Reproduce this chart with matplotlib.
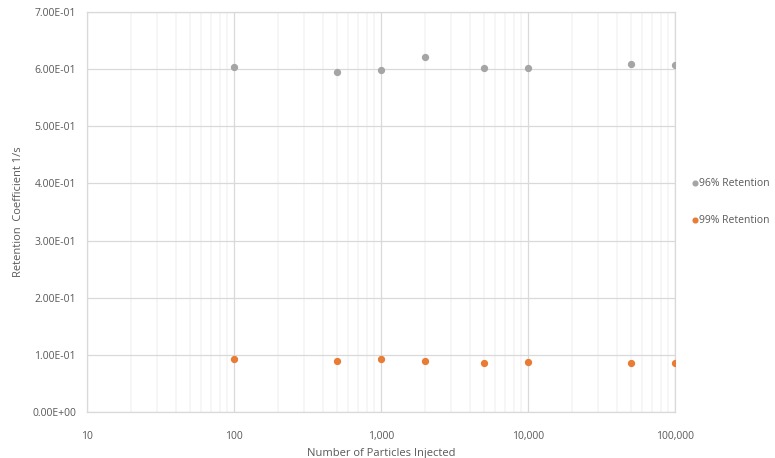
import matplotlib.pyplot as plt
from matplotlib.ticker import FuncFormatter, LogLocator

plt.rcParams['font.family'] = ['Open Sans', 'DejaVu Sans']

# particles injected and fitted retention coefficients
particles = [100, 500, 1000, 2000, 5000, 10000, 50000, 100000]
ret_96 = [0.604, 0.595, 0.598, 0.621, 0.602, 0.602, 0.609, 0.607]
ret_99 = [0.093, 0.089, 0.093, 0.089, 0.0855, 0.087, 0.0855, 0.0855]
y_ticks = [0.0, 0.1, 0.2, 0.3, 0.4, 0.5, 0.6, 0.7]
x_ticks = [10, 100, 1000, 10000, 100000]

txt = '#595959'
fig = plt.figure(figsize=(7.75, 4.58), dpi=100)
ax = fig.add_axes([0.1123, 0.1004, 0.7587, 0.8734])

ax.scatter(particles, ret_96, s=18, color='#A5A5A5', zorder=3, label='96% Retention')
ax.scatter(particles, ret_99, s=18, color='#E97C35', zorder=3, label='99% Retention')

ax.set_xscale('log')
ax.set_xlim(10, 100000)
ax.set_ylim(0, 0.7)
ax.set_xticks(x_ticks)
ax.xaxis.set_major_formatter(FuncFormatter(lambda v, p: f'{int(round(v)):,}'))
ax.xaxis.set_minor_locator(LogLocator(base=10, subs=range(2, 10)))
ax.set_yticks(y_ticks)
ax.yaxis.set_major_formatter(FuncFormatter(lambda v, p: f'{v:.2E}'))

ax.grid(which='major', axis='both', color='#D9D9D9', lw=0.9, zorder=0)
ax.grid(which='minor', axis='x', color='#F6F6F6', lw=1.4, zorder=0)
ax.tick_params(which='both', length=0, colors=txt, labelsize=7.5)
ax.tick_params(axis='x', pad=14)
ax.tick_params(axis='y', pad=8)
for sp in ax.spines.values():
    sp.set_color('#D9D9D9')
    sp.set_linewidth(0.9)

ax.set_xlabel('Number of Particles Injected', color=txt, fontsize=8, labelpad=4)
ax.set_ylabel('Retention  Coefficient 1/s', color=txt, fontsize=8, labelpad=6)

ax.legend(loc='center left', bbox_to_anchor=(1.0, 0.525), frameon=False, fontsize=7.5,
          labelcolor=txt, handletextpad=-0.6, labelspacing=2.5, markerscale=0.8,
          borderaxespad=0.5)

fig.savefig('out.png', dpi=100)
